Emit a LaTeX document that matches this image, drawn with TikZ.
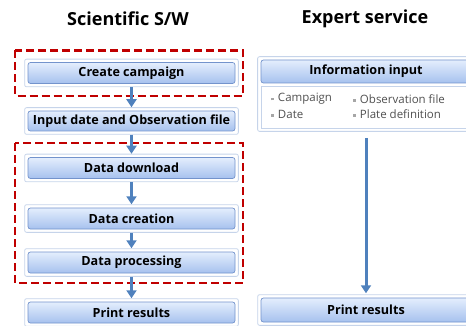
\documentclass[tikz,border=0pt]{standalone}
\usepackage{fontspec}
\setmainfont{Open Sans}
\usetikzlibrary{arrows.meta,backgrounds,fit}
\definecolor{btntop}{HTML}{E4EEFD}
\definecolor{btnbot}{HTML}{A6C1EE}
\definecolor{btnline}{HTML}{7393CC}
\definecolor{panelline}{HTML}{C6D4EA}
\definecolor{zonered}{HTML}{C00000}
\definecolor{flowblue}{HTML}{4F81BD}
\definecolor{bullettext}{HTML}{505050}
\definecolor{bulletgray}{HTML}{A6A6A6}
\tikzset{
  btn/.style={
    draw=btnline,
    line width=0.7pt,
    rounded corners=2.5pt,
    top color=btntop,
    bottom color=btnbot,
    minimum height=#1,
    inner sep=0pt,
    font=\bfseries\fontsize{12.6}{14}\selectfont
  },
  btn/.default=21pt,
  panel/.style={draw=panelline,line width=0.8pt,fill=white,rounded corners=2pt,inner sep=3pt},
  zone/.style={draw=zonered,line width=2.8pt,dash pattern=on 8pt off 4pt},
  flow/.style={-{Triangle[width=10pt,length=8pt]},line width=3.5pt,draw=flowblue},
  title/.style={font=\bfseries\fontsize{18}{20}\selectfont},
  bullet/.style={font=\fontsize{11.5}{13}\selectfont,text=bullettext,anchor=west,inner sep=0pt}
}
\newcommand{\sqbullet}{\textcolor{bulletgray}{\rule[0.25ex]{0.45ex}{0.45ex}}\hspace{0.35em}}

\begin{document}
\begin{tikzpicture}[x=1pt,y=-1pt]
  \useasboundingbox (0,0) rectangle (466,326);
  \clip (0,0) rectangle (466,326);

  % column titles
  \node[title] (sw) at (128,19) {Scientific S/W};
  \node[title] (expert) at (365,19) {Expert service};

  % scientific software steps
  \node[btn, minimum width=207pt] (create)   at (131.5,73)  {Create campaign};
  \node[btn=20pt, minimum width=207pt] (input) at (131.5,121) {Input date and Observation file};
  \node[btn, minimum width=207pt] (download) at (131.5,168)  {Data download};
  \node[btn, minimum width=207pt] (creation) at (131.5,218.5) {Data creation};
  \node[btn, minimum width=207pt] (process)  at (131.5,262.5) {Data processing};
  \node[btn, minimum width=207pt] (print)    at (131.5,312.5) {Print results};

  % expert service side
  \node[btn=23pt, minimum width=210pt] (info) at (366,71.5) {Information input};
  \node[draw=panelline,line width=0.8pt,fill=white,minimum width=210pt,minimum height=42pt] (infobody) at (366,107) {};
  \node[bullet] (campaign) at (271,99)  {\sqbullet Campaign};
  \node[bullet] (date)     at (271,114) {\sqbullet Date};
  \node[bullet] (obsfile)  at (353,99)  {\sqbullet Observation file};
  \node[bullet] (plate)    at (353,114) {\sqbullet Plate definition};
  \node[btn=24pt, minimum width=210pt] (printx) at (366,310) {Print results};

  \begin{scope}[on background layer]
    \node[panel,fit=(create)] (createpanel) {};
    \node[panel,fit=(input)] (inputpanel) {};
    \node[panel,fit=(download)] (downloadpanel) {};
    \node[panel,fit=(creation)] (creationpanel) {};
    \node[panel,fit=(process)] (processpanel) {};
    \node[panel,fit=(print)] (printpanel) {};
    \node[panel,fit=(info)(infobody)] (infopanel) {};
    \node[panel,fit=(printx)] (printxpanel) {};
  \end{scope}

  % red zones
  \draw[zone] (15,50.5) rectangle (243,96);
  \draw[zone] (15,143) rectangle (243,283);

  % flow arrows
  \draw[flow] (createpanel.south) -- (inputpanel.north);
  \draw[flow] (inputpanel.south) -- (downloadpanel.north);
  \draw[flow] (downloadpanel.south) -- (creationpanel.north);
  \draw[flow] (creationpanel.south) -- (processpanel.north);
  \draw[flow] (processpanel.south) -- (printpanel.north);
  \draw[flow,line width=3pt,shorten <=6pt,shorten >=1pt] (infopanel.south -| printx) -- (printxpanel.north -| printx);
\end{tikzpicture}
\end{document}
